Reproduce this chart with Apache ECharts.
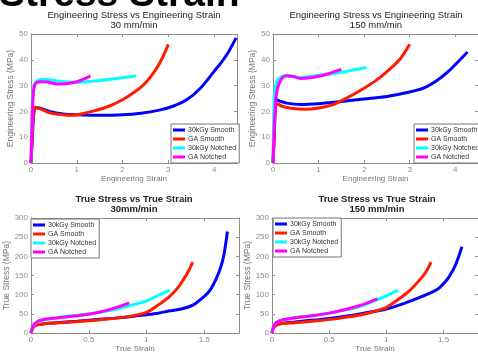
<!DOCTYPE html>
<html>
<head>
<meta charset="utf-8">
<script src="https://cdn.jsdelivr.net/npm/echarts@6/dist/echarts.min.js"></script>
<style>
html,body{margin:0;padding:0;background:#fff;}
#chart{width:478px;height:354px;}
</style>
</head>
<body>
<div id="chart"></div>
<script>
// ---------- data ----------
var seriesNames = ['30kGy Smooth', 'GA Smooth', '30kGy Notched', 'GA Notched'];
var seriesColors = ['#0000ff', '#ff1a00', '#00ffff', '#ff00ff'];

// Engineering stress vs engineering strain, 30 mm/min
var eng30Smooth30k = [[0,0],[0.03,10],[0.06,19],[0.1,21.5],[0.2,21.2],[0.4,20],[0.7,19],[1.0,18.7],[1.5,18.5],[2.0,18.7],[2.4,19.3],[2.8,20.5],[3.1,22],[3.4,24.5],[3.7,29],[4.0,35.5],[4.15,38.8],[4.3,42.6],[4.48,48.5]];
var eng30SmoothGA = [[0,0],[0.03,12],[0.06,20],[0.1,21.5],[0.2,21],[0.4,19.5],[0.7,18.7],[0.9,18.5],[1.1,19],[1.4,20.3],[1.7,22],[2.0,24.5],[2.3,28],[2.5,31],[2.7,35.5],[2.85,40],[3.0,46]];
var eng30Notched30k = [[0,0],[0.02,15],[0.04,26],[0.08,30.5],[0.15,32],[0.3,32.5],[0.5,32],[0.8,31.4],[1.0,31.3],[1.5,32],[2.0,33],[2.3,33.8]];
var eng30NotchedGA = [[0,0],[0.02,14],[0.05,27],[0.1,30.8],[0.2,31.5],[0.35,31.4],[0.6,30.6],[0.8,30.8],[1.0,31.5],[1.15,32.5],[1.3,33.8]];

// Engineering stress vs engineering strain, 150 mm/min
var eng150Smooth30k = [[0,0],[0.03,12],[0.05,22],[0.08,24.5],[0.15,24],[0.3,23.2],[0.6,22.7],[1.0,23],[1.5,23.8],[2.0,24.8],[2.5,25.8],[3.0,27.5],[3.3,29],[3.6,32],[3.85,35.5],[4.05,39],[4.27,43]];
var eng150SmoothGA = [[0,0],[0.03,12],[0.05,21],[0.08,23],[0.2,22],[0.4,21.2],[0.7,20.8],[1.0,21.3],[1.3,22.5],[1.6,25],[2.0,29],[2.3,32.5],[2.6,37],[2.8,40.5],[3.0,46]];
var eng150Notched30k = [[0,0],[0.01,12],[0.03,26],[0.08,31.5],[0.15,33],[0.25,33.8],[0.4,33.6],[0.6,33.2],[0.8,33.5],[1.0,34],[1.3,34.6],[1.6,35.5],[1.85,36.3],[2.05,37]];
var eng150NotchedGA = [[0,0],[0.02,10],[0.05,22],[0.1,29],[0.2,33],[0.3,33.8],[0.45,33.5],[0.6,32.8],[0.8,33],[1.0,33.6],[1.2,34.5],[1.35,35.4],[1.5,36.3]];

// True stress vs true strain, 30 mm/min
var true30Smooth30k = [[0,0],[0.01,10],[0.03,18],[0.06,22],[0.1,24],[0.2,26.5],[0.4,31],[0.6,36],[0.8,41],[1.0,48],[1.1,52],[1.2,58],[1.3,63],[1.4,73],[1.5,96],[1.55,112],[1.6,140],[1.64,170],[1.67,205],[1.7,265]];
var true30SmoothGA = [[0,0],[0.01,10],[0.03,18],[0.06,22],[0.1,24],[0.2,26],[0.4,30],[0.6,35],[0.8,41],[0.9,46],[1.0,54],[1.1,73],[1.2,96],[1.27,118],[1.32,140],[1.36,160],[1.4,185]];
var true30Notched30k = [[0,0],[0.01,12],[0.03,22],[0.06,30],[0.1,34],[0.2,39],[0.3,43],[0.5,50],[0.7,60],[0.85,71],[1.0,84],[1.1,98],[1.2,112]];
var true30NotchedGA = [[0,0],[0.01,12],[0.03,24],[0.06,31],[0.1,35],[0.2,39],[0.3,42],[0.45,47],[0.6,55],[0.7,63],[0.78,71],[0.85,79]];

// True stress vs true strain, 150 mm/min
var true150Smooth30k = [[0,0],[0.01,12],[0.03,20],[0.06,24],[0.1,26],[0.2,29],[0.4,35],[0.6,42],[0.8,52],[1.0,63],[1.15,77],[1.35,100],[1.45,115],[1.5,129],[1.55,148],[1.6,175],[1.66,225]];
var true150SmoothGA = [[0,0],[0.01,12],[0.03,19],[0.06,23],[0.1,25],[0.2,27],[0.4,32],[0.6,39],[0.8,49],[0.9,57],[1.0,67],[1.1,87],[1.2,110],[1.3,142],[1.35,162],[1.39,185]];
var true150Notched30k = [[0,0],[0.01,14],[0.03,25],[0.06,31],[0.1,35],[0.2,40],[0.4,47],[0.6,58],[0.75,68],[0.9,85],[1.0,97],[1.1,112]];
var true150NotchedGA = [[0,0],[0.01,14],[0.03,25],[0.06,31],[0.1,35],[0.2,40],[0.35,45],[0.5,52],[0.65,62],[0.8,75],[0.92,89]];

var panelTitles = ['Engineering Stress vs Engineering Strain\n30 mm/min', 'Engineering Stress vs Engineering Strain\n150 mm/min', 'True Stress vs True Strain\n30mm/min', 'True Stress vs True Strain\n150 mm/min'];
var xAxisNames = ['Engineering Strain', 'Engineering Strain', 'True Strain', 'True Strain'];
var yAxisNames = ['Engineering Stress (MPa)', 'Engineering Stress (MPa)', 'True Stress (MPa)', 'True Stress (MPa)'];
var xMax = [4.5, 4.5, 1.8, 1.8];
var xInterval = [1, 1, 0.5, 0.5];
var yMax = [50, 50, 300, 300];
var yInterval = [10, 10, 50, 50];
var panelData = [
  [eng30Smooth30k, eng30SmoothGA, eng30Notched30k, eng30NotchedGA],
  [eng150Smooth30k, eng150SmoothGA, eng150Notched30k, eng150NotchedGA],
  [true30Smooth30k, true30SmoothGA, true30Notched30k, true30NotchedGA],
  [true150Smooth30k, true150SmoothGA, true150Notched30k, true150NotchedGA]
];

// ---------- layout ----------
var grids = [
  {left: 31, top: 34, width: 206, height: 129},
  {left: 273, top: 34, width: 207, height: 129},
  {left: 31, top: 218, width: 208, height: 120},
  {left: 272, top: 218, width: 211, height: 120}
];
var legendPos = [
  {left: 171, top: 124},
  {left: 414, top: 124},
  {left: 31, top: 219},
  {left: 273, top: 218}
];
var yNameGap = [15, 15, 19, 17];
var titleCenters = [134, 376, 134, 377];
var titleTops = [10, 10, 194, 194];
var axisGray = '#8c8c8c';
var FONT = 'Liberation Sans, Arial, sans-serif';

var option = {
  backgroundColor: '#fff',
  animation: false,
  title: [{
    text: 'Stress Strain', left: -1, top: -24, padding: 0,
    textStyle: {fontFamily: FONT, fontSize: 39, fontWeight: 'bold', color: '#000'}
  }],
  legend: [], grid: [], xAxis: [], yAxis: [], series: []
};

for (var p = 0; p < 4; p++) {
  option.title.push({
    text: panelTitles[p], left: titleCenters[p], top: titleTops[p], textAlign: 'center', padding: 0,
    textStyle: {fontFamily: FONT, fontSize: 9.5, fontWeight: p < 2 ? 'normal' : 'bold', color: '#222', lineHeight: 10}
  });
  option.grid.push(Object.assign({show: true, backgroundColor: '#fff', borderWidth: 0}, grids[p]));
  var lineStyle = {color: axisGray, width: 1};
  option.xAxis.push({
    type: 'value', gridIndex: p, min: 0, max: xMax[p], interval: xInterval[p], position: 'bottom',
    name: xAxisNames[p], nameLocation: 'middle', nameGap: 11,
    nameTextStyle: {fontFamily: FONT, fontSize: 8, color: '#777'},
    axisLine: {show: true, onZero: false, lineStyle: lineStyle},
    axisTick: {show: true, inside: true, length: 3, lineStyle: lineStyle},
    axisLabel: {fontFamily: FONT, fontSize: 8, color: axisGray, margin: 3, showMaxLabel: false},
    splitLine: {show: false}
  });
  option.xAxis.push({
    type: 'value', gridIndex: p, min: 0, max: xMax[p], interval: xInterval[p], position: 'top',
    axisLine: {show: true, onZero: false, lineStyle: lineStyle},
    axisTick: {show: true, inside: true, length: 3, lineStyle: lineStyle},
    axisLabel: {show: false}, splitLine: {show: false}
  });
  option.yAxis.push({
    type: 'value', gridIndex: p, min: 0, max: yMax[p], interval: yInterval[p], position: 'left',
    name: yAxisNames[p], nameLocation: 'middle', nameGap: yNameGap[p],
    nameTextStyle: {fontFamily: FONT, fontSize: 8.5, color: '#777'},
    axisLine: {show: true, onZero: false, lineStyle: lineStyle},
    axisTick: {show: true, inside: true, length: 3, lineStyle: lineStyle},
    axisLabel: {fontFamily: FONT, fontSize: 8, color: axisGray, margin: 3},
    splitLine: {show: false}
  });
  option.yAxis.push({
    type: 'value', gridIndex: p, min: 0, max: yMax[p], interval: yInterval[p], position: 'right',
    axisLine: {show: true, onZero: false, lineStyle: lineStyle},
    axisTick: {show: true, inside: true, length: 3, lineStyle: lineStyle},
    axisLabel: {show: false}, splitLine: {show: false}
  });
  option.legend.push({
    data: seriesNames, orient: 'vertical', left: legendPos[p].left, top: legendPos[p].top,
    icon: 'rect', itemWidth: 12, itemHeight: 3, itemGap: 1,
    padding: [2, 3, 2, 2], borderColor: '#777', borderWidth: 1, backgroundColor: '#fff',
    selectedMode: false,
    textStyle: {fontFamily: FONT, fontSize: 7, color: '#333', lineHeight: 8, padding: [0, 0, 0, -2]}
  });
  for (var s = 0; s < 4; s++) {
    option.series.push({
      name: seriesNames[s], type: 'line', xAxisIndex: 2 * p, yAxisIndex: 2 * p,
      data: panelData[p][s], showSymbol: false, symbol: 'none', smooth: 0.3,
      lineStyle: {color: seriesColors[s], width: 3}, itemStyle: {color: seriesColors[s]},
      z: 2 + s
    });
  }
}

var chart = echarts.init(document.getElementById('chart'), null, {renderer: 'canvas'});
chart.setOption(option);
</script>
</body>
</html>
